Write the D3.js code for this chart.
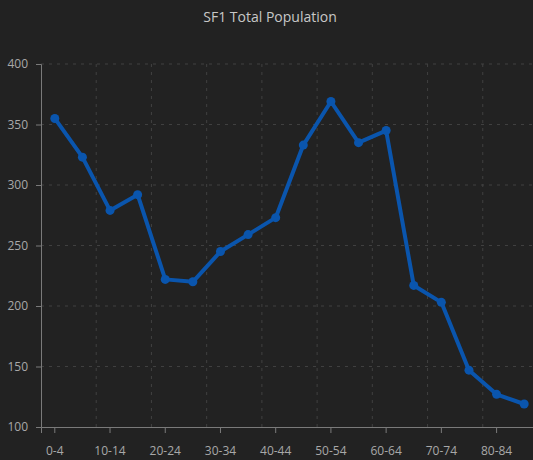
<!DOCTYPE html>
<html>
<head>
<meta charset="utf-8">
<script src="https://cdn.jsdelivr.net/npm/d3@7"></script>
<style>
  html, body { margin: 0; padding: 0; background: #222222; overflow: hidden; }
  svg { display: block; }
</style>
</head>
<body>
<svg id="chart" width="533" height="460"></svg>
<script>
// Population par tranche d'âge
const ageGroups = ["0-4", "5-9", "10-14", "15-19", "20-24", "25-29", "30-34", "35-39", "40-44",
    "45-49", "50-54", "55-59", "60-64", "65-69", "70-74", "75-79", "80-84", "85+"];
const population = [355, 323, 279, 292, 222, 220, 245, 259, 273, 333, 369, 335, 345, 217, 203, 147, 127, 119];
const yTicks = [100, 150, 200, 250, 300, 350, 400];
const chartTitle = "SF1 Total Population";

const svg = d3.select("#chart");
const margin = { top: 64, right: -5, bottom: 33, left: 41 };
const width = 533 - margin.left - margin.right;
const height = 460 - margin.top - margin.bottom;

const font = "'Open Sans', 'Noto Sans', sans-serif";

svg.append("text").attr("x", 270).attr("y", 22).attr("text-anchor", "middle")
    .attr("fill", "#c8c8c8").attr("font-family", font).attr("font-size", 14).text(chartTitle);

const g = svg.append("g").attr("transform", `translate(${margin.left},${margin.top})`);

const x = d3.scaleBand().domain(ageGroups).range([0, width]);
const y = d3.scaleLinear().domain([100, 400]).range([height, 0]);
const cx = d => x(d) + x.bandwidth() / 2;

// grille horizontale
g.append("g").selectAll("line").data(yTicks.filter(v => v > 100)).join("line")
    .attr("x1", 0).attr("x2", width).attr("y1", d => y(d)).attr("y2", d => y(d))
    .attr("stroke", "#404040").attr("stroke-dasharray", "3 5");

// grille verticale : une limite de bande sur deux
g.append("g").selectAll("line").data(ageGroups.filter((d, i) => i % 2 === 1)).join("line")
    .attr("x1", d => x(d) + x.bandwidth()).attr("x2", d => x(d) + x.bandwidth())
    .attr("y1", 0).attr("y2", height)
    .attr("stroke", "#404040").attr("stroke-dasharray", "3 5");

// axes
const yAxis = g.append("g").call(d3.axisLeft(y).tickValues(yTicks).tickSize(5).tickPadding(8));
const xAxis = g.append("g").attr("transform", `translate(0,${height})`)
    .call(d3.axisBottom(x).tickValues(ageGroups.filter((d, i) => i % 2 === 0)).tickSize(6).tickPadding(13));

[yAxis, xAxis].forEach(a => {
    a.select(".domain").attr("stroke", "#7a7a7a");
    a.selectAll(".tick line").attr("stroke", "#7a7a7a");
    a.selectAll(".tick text").attr("fill", "#a8a8a8").attr("font-family", font).attr("font-size", 12);
});

// courbe
const line = d3.line().x((d, i) => cx(ageGroups[i])).y(d => y(d));
g.append("path").datum(population)
    .attr("fill", "none").attr("stroke", "#0a55ad").attr("stroke-width", 4)
    .attr("stroke-linejoin", "round").attr("d", line);

g.append("g").selectAll("circle").data(population).join("circle")
    .attr("cx", (d, i) => cx(ageGroups[i])).attr("cy", d => y(d)).attr("r", 4.5)
    .attr("fill", "#0a55ad");
</script>
</body>
</html>
